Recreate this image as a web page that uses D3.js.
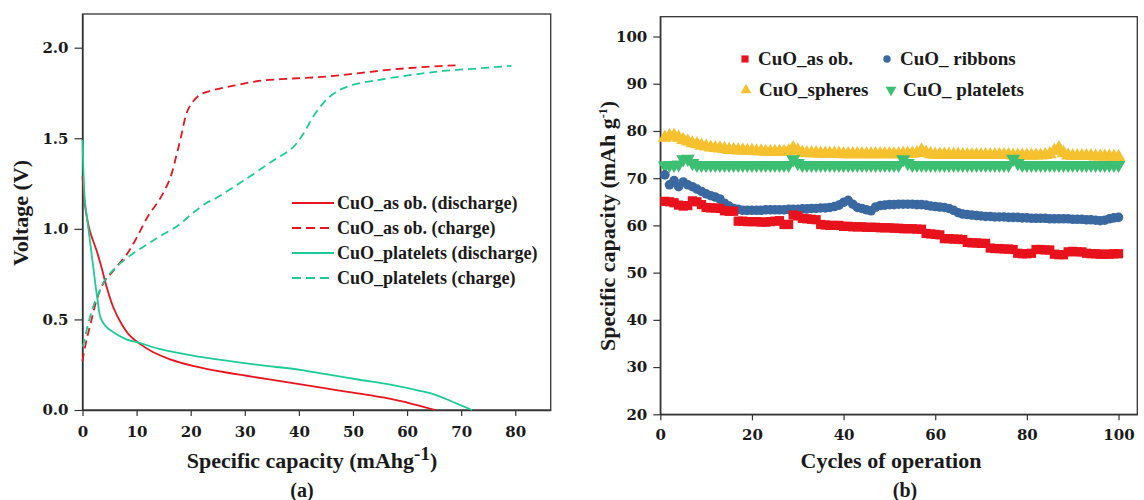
<!DOCTYPE html>
<html><head><meta charset="utf-8">
<script src="https://cdn.jsdelivr.net/npm/d3@7"></script>
<style>
body{margin:0;background:#fff;}
svg{display:block;}
.tick text{font-family:"DejaVu Serif",serif;font-weight:bold;font-size:15px;fill:#1a1a1a;}
.ttl{font-family:"Liberation Serif",serif;font-weight:bold;fill:#1a1a1a;}
</style></head>
<body>
<svg id="c" width="1144" height="500"></svg>
<script>
// ---------- Panel (a) data: [capacity (mAh/g), voltage (V)] ----------
const asobDischarge = [[0,1.29],[0.3,1.17],[0.6,1.1],[1.35,0.99],[2.6,0.88],[3.5,0.79],[4.45,0.68],[5.65,0.57],[7.2,0.476],[8.75,0.41],[10.6,0.365],[13,0.32],[16.2,0.28],[20.4,0.244],[26.6,0.207],[30.3,0.189],[38.9,0.148],[45,0.119],[50,0.096],[57.4,0.059],[60,0.041],[65.2,0]];
const asobCharge = [[0,0.27],[0.1,0.29],[0.7,0.38],[1.6,0.49],[2.6,0.605],[3.85,0.70],[5.05,0.745],[6.55,0.80],[8.1,0.855],[10,0.95],[12.1,1.07],[14.2,1.16],[16.2,1.28],[17.4,1.41],[18.3,1.52],[19.2,1.635],[20.1,1.69],[21.7,1.74],[24.1,1.765],[27.9,1.79],[32.7,1.817],[38.9,1.83],[45,1.84],[51.2,1.86],[57.4,1.88],[63.5,1.894],[69.7,1.904]];
const plateDischarge = [[0,1.49],[0.2,1.3],[0.43,1.16],[1.05,1.01],[1.67,0.865],[2.28,0.72],[2.77,0.61],[3.33,0.51],[4.15,0.467],[5.65,0.43],[8.1,0.39],[10.6,0.37],[14.2,0.337],[20.4,0.30],[26.6,0.272],[32.7,0.248],[40.2,0.222],[45,0.198],[51.2,0.167],[57.4,0.137],[62.3,0.106],[65.5,0.081],[68.5,0.044],[72,0]];
const plateCharge = [[0,0.35],[0.1,0.356],[1.05,0.476],[1.97,0.57],[2.9,0.64],[4.15,0.717],[5.65,0.772],[8.1,0.837],[11.2,0.90],[14.2,0.957],[17.4,1.013],[20.4,1.087],[22.9,1.143],[24.7,1.17],[29.7,1.265],[35.2,1.376],[38.9,1.45],[40.8,1.524],[42.6,1.617],[44.4,1.69],[46.4,1.746],[49.4,1.79],[54.3,1.82],[60.5,1.848],[66.7,1.872],[72.8,1.885],[79.3,1.9]];
const aXTicks = [0,10,20,30,40,50,60,70,80];
const aYTicks = [0,0.5,1.0,1.5,2.0];
const aLegend = ["CuO_as ob. (discharge)","CuO_as ob. (charge)","CuO_platelets (discharge)","CuO_platelets (charge)"];

// ---------- Panel (b) data: specific capacity per cycle (cycles 1..100) ----------
const cycles = d3.range(1,101);
const asobCap = [65.1,65.0,64.8,64.3,64.1,64.2,65.2,65.0,64.4,63.8,63.7,63.7,63.6,63.1,63.0,63.0,
 60.9,60.9,60.8,60.8,60.8,60.7,60.7,60.8,60.9,61.0,60.2,60.2,62.2,62.0,61.5,61.4,61.3,61.2,
 60.2,60.1,60.0,60.0,60.0,59.8,59.8,59.7,59.7,59.7,59.6,59.6,59.6,59.5,59.5,59.5,
 59.4,59.4,59.3,59.3,59.3,59.2,59.2,58.3,58.2,58.1,58.0,57.2,57.2,57.1,57.1,57.0,
 56.4,56.3,56.3,56.2,56.2,55.2,55.1,55.1,55.0,55.0,54.9,54.1,54.0,54.0,54.1,
 54.9,54.9,54.8,54.8,53.9,53.8,53.8,54.4,54.5,54.4,54.4,54.1,54.0,54.0,53.9,53.9,53.9,54.0,54.0];
const ribbonsCap = [70.7,68.6,69.5,68.2,69.2,68.6,68.2,67.7,67.2,66.7,66.3,66.0,65.6,64.7,64.1,63.6,63.4,
 63.2,63.2,63.2,63.2,63.2,63.3,63.3,63.3,63.3,63.3,63.4,63.4,63.4,
 63.5,63.5,63.6,63.6,63.7,63.7,63.8,64.0,64.3,64.9,65.3,64.5,63.8,63.6,63.3,63.1,63.9,
 64.2,64.3,64.4,64.4,64.5,64.5,64.5,64.5,64.4,64.4,64.3,64.1,64.0,63.9,63.8,63.6,63.2,62.7,
 62.4,62.3,62.2,62.1,62.0,61.9,61.9,61.8,61.8,61.8,61.7,61.7,61.7,61.6,61.6,
 61.5,61.5,61.5,61.5,61.4,61.4,61.4,61.4,61.4,61.3,61.3,61.3,61.2,61.2,61.1,61.0,61.1,61.4,61.6,61.7];
const spheresCap = [78.6,78.9,79.0,78.6,78.1,77.8,77.4,77.2,76.9,76.7,76.5,76.4,76.3,76.2,
 76.0,76.0,75.9,75.9,75.8,75.8,75.7,75.7,75.6,75.6,75.6,75.6,75.6,75.7,76.4,75.9,
 75.4,75.3,75.3,75.3,75.2,75.2,75.2,75.2,75.2,75.1,75.1,75.1,75.1,75.1,75.1,75.1,75.1,75.1,75.1,75.1,75.1,75.1,75.2,75.2,75.2,75.3,
 75.9,75.4,75.1,75.0,75.0,75.0,75.0,75.0,75.0,74.9,74.9,74.9,74.9,74.9,74.9,74.9,74.9,74.9,74.9,74.9,
 74.8,74.8,74.8,74.8,74.8,74.8,74.8,74.9,75.1,75.8,76.4,75.3,
 74.8,74.7,74.7,74.7,74.7,74.7,74.6,74.6,74.6,74.6,74.5,74.5];
const plateletsCap = [72.7,72.8,72.8,72.9,74.0,74.1,73.2,
 72.8,72.8,72.8,72.8,72.8,72.8,72.8,72.8,72.8,72.8,72.8,72.8,72.8,72.8,72.8,72.8,72.8,72.8,72.8,72.8,72.8,
 74.0,73.2,
 72.8,72.8,72.8,72.8,72.8,72.8,72.8,72.8,72.8,72.8,72.8,72.8,72.8,72.8,72.8,72.8,72.8,72.8,72.8,72.8,72.8,72.8,
 74.0,73.2,
 72.8,72.8,72.8,72.8,72.8,72.8,72.8,72.8,72.8,72.8,72.8,72.8,72.8,72.8,72.8,72.8,72.8,72.8,72.8,72.8,72.8,72.8,
 74.1,73.2,
 72.8,72.8,72.8,72.8,72.8,72.8,72.8,72.8,72.8,72.8,72.8,72.8,72.8,72.8,72.8,72.8,72.8,72.8,72.8,72.8,72.8,72.8];
const bXTicks = [0,20,40,60,80,100];
const bYTicks = [20,30,40,50,60,70,80,90,100];
const bLegend = ["CuO_as ob.","CuO_ ribbons","CuO_spheres","CuO_ platelets"];

// ---------- drawing ----------
const svg = d3.select("#c");
const RED="#e6141e", TEAL="#1ccb98";
const AXC="#333";

// ===== Panel (a) =====
const ax = d3.scaleLinear().domain([0,86.55]).range([82.5,550.7]);
const ay = d3.scaleLinear().domain([0,2.186]).range([410,14]);
const ga = svg.append("g");
ga.append("rect").attr("x",ax(0)).attr("y",ay(2.186)).attr("width",ax(86.55)-ax(0)).attr("height",ay(0)-ay(2.186))
  .attr("fill","none").attr("stroke",AXC).attr("stroke-width",1.3);
const aLeft = ga.append("g").attr("transform",`translate(${ax(0)},0)`)
  .call(d3.axisLeft(ay).tickValues(aYTicks).tickFormat(d3.format(".1f")).tickSize(8).tickSizeOuter(0).tickPadding(6));
const aBot = ga.append("g").attr("transform",`translate(0,${ay(0)})`)
  .call(d3.axisBottom(ax).tickValues(aXTicks).tickSize(6).tickSizeOuter(0).tickPadding(10));
[aLeft,aBot].forEach(g=>{g.select(".domain").attr("stroke",AXC).attr("stroke-width",1.3);g.selectAll(".tick line").attr("stroke",AXC).attr("stroke-width",1.2);});

const lineA = d3.line().x(d=>ax(d[0])).y(d=>ay(d[1])).curve(d3.curveCatmullRom.alpha(0.5));
const aSeries = [
  {d:asobDischarge,c:RED,dash:null},
  {d:asobCharge,c:RED,dash:"8,5"},
  {d:plateDischarge,c:TEAL,dash:null},
  {d:plateCharge,c:TEAL,dash:"8,5"}];
aSeries.forEach(s=>{
  ga.append("path").attr("d",lineA(s.d)).attr("fill","none").attr("stroke",s.c)
    .attr("stroke-width",1.8).attr("stroke-dasharray",s.dash);
});
// legend (a)
aSeries.forEach((s,i)=>{
  const y = 203 + i*25;
  ga.append("line").attr("x1",292).attr("x2",334).attr("y1",y).attr("y2",y)
    .attr("stroke",s.c).attr("stroke-width",2).attr("stroke-dasharray",s.dash?"9,5":null);
  ga.append("text").attr("class","ttl").attr("x",337).attr("y",y).attr("dy","0.33em")
    .attr("font-size",18).text(aLegend[i]);
});
// titles (a)
const tA = ga.append("text").attr("class","ttl").attr("x",312).attr("y",468).attr("text-anchor","middle").attr("font-size",22);
tA.append("tspan").text("Specific capacity (mAhg");
tA.append("tspan").attr("dy",-8).attr("font-size",19).text("-1");
tA.append("tspan").attr("dy",8).text(")");
ga.append("text").attr("class","ttl").attr("x",302).attr("y",497).attr("text-anchor","middle").attr("font-size",20).text("(a)");
ga.append("text").attr("class","ttl").attr("transform","translate(28,213) rotate(-90)").attr("text-anchor","middle").attr("font-size",22).text("Voltage (V)");

// ===== Panel (b) =====
const bx = d3.scaleLinear().domain([0,104.1]).range([660.3,1137.3]);
const by = d3.scaleLinear().domain([20,104.2]).range([414.3,16.7]);
const gb = svg.append("g");
gb.append("rect").attr("x",bx(0)).attr("y",by(104.2)).attr("width",bx(104.1)-bx(0)).attr("height",by(20)-by(104.2))
  .attr("fill","none").attr("stroke",AXC).attr("stroke-width",1.3);
const bLeft = gb.append("g").attr("transform",`translate(${bx(0)},0)`)
  .call(d3.axisLeft(by).tickValues(bYTicks).tickSize(7).tickSizeOuter(0).tickPadding(6));
const bBot = gb.append("g").attr("transform",`translate(0,${by(20)})`)
  .call(d3.axisBottom(bx).tickValues(bXTicks).tickSize(6).tickSizeOuter(0).tickPadding(9));
[bLeft,bBot].forEach(g=>{g.select(".domain").attr("stroke",AXC).attr("stroke-width",1.3);g.selectAll(".tick line").attr("stroke",AXC).attr("stroke-width",1.2);});

const bSeries = [
  {v:asobCap, c:"#e8121c", sym:d3.symbolSquare, size:85, rot:0},
  {v:ribbonsCap, c:"#3a68a0", sym:d3.symbolCircle, size:72, rot:0},
  {v:spheresCap, c:"#f6c12e", sym:d3.symbolTriangle, size:85, rot:0},
  {v:plateletsCap, c:"#3cbf72", sym:d3.symbolTriangle, size:85, rot:180}];
// draw order: spheres, platelets, ribbons, asob
[2,3,1,0].forEach(k=>{
  const s = bSeries[k];
  const p = d3.symbol().type(s.sym).size(s.size)();
  gb.append("g").selectAll("path").data(cycles).join("path")
    .attr("d",p).attr("fill",s.c)
    .attr("transform",(c,i)=>`translate(${bx(c)},${by(s.v[i])}) rotate(${s.rot})`);
});
// legend (b)
const legPos = [[745,59,758],[887,59,900],[746,90,759],[891,90,903]];
bSeries.forEach((s,i)=>{
  const [mx,my,tx] = legPos[i];
  gb.append("path").attr("d",d3.symbol().type(s.sym).size(s.size*0.6)()).attr("fill",s.c)
    .attr("transform",`translate(${mx},${my}) rotate(${s.rot})`);
  gb.append("text").attr("class","ttl").attr("x",tx).attr("y",my).attr("dy","0.33em").attr("font-size",19).text(bLegend[i]);
});
// titles (b)
gb.append("text").attr("class","ttl").attr("x",891).attr("y",468).attr("text-anchor","middle").attr("font-size",22).text("Cycles of operation");
gb.append("text").attr("class","ttl").attr("x",905).attr("y",497).attr("text-anchor","middle").attr("font-size",20).text("(b)");
const tB = gb.append("text").attr("class","ttl").attr("transform","translate(615,226) rotate(-90)").attr("text-anchor","middle").attr("font-size",22);
tB.append("tspan").text("Specific capacity (mAh g");
tB.append("tspan").attr("dy",-8).attr("font-size",12).text("-1");
tB.append("tspan").attr("dy",8).text(")");
</script>
</body></html>
